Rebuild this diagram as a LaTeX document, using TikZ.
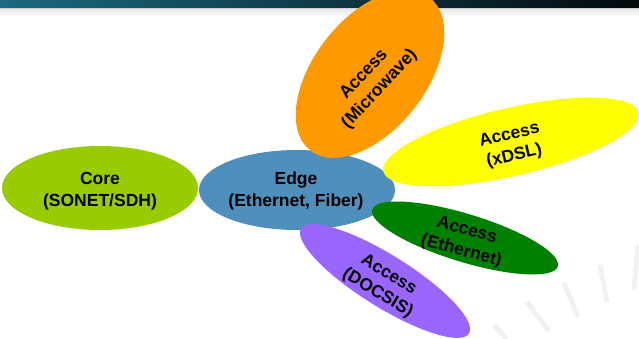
\documentclass[tikz,border=0pt]{standalone}
\usepackage{fontspec}
\setmainfont{Liberation Sans}
\usetikzlibrary{shapes.geometric}
\definecolor{corec}{HTML}{99CC00}
\definecolor{edgec}{HTML}{4F8FBB}
\definecolor{mwc}{HTML}{FF9900}
\definecolor{dslc}{HTML}{FFFF00}
\definecolor{ethc}{HTML}{008000}
\definecolor{docc}{HTML}{9966FF}
\definecolor{bandl}{HTML}{1B6A80}
\definecolor{bandr}{HTML}{03090C}
\definecolor{faint}{HTML}{F1F1F1}
\begin{document}
\begin{tikzpicture}[x=1pt,y=-1pt,
  blob/.style={ellipse, inner sep=0pt, draw=none},
  lbl/.style={font=\fontsize{17.5}{21.5}\selectfont\bfseries, align=center, inner sep=0pt, text=black},
  ray/.style={draw=faint, line width=5pt}]
\useasboundingbox (0,0) rectangle (639,339);
% top band
\shade[left color=bandl, right color=bandr] (0,0) rectangle (639,8.5);
\fill[color=black!18] (0,8.5) rectangle (639,10);
\shade[top color=black!8, bottom color=white] (0,10) rectangle (639,17);
% faint background rays
\coordinate (r1a) at (494,325); \coordinate (r1b) at (507,339);
\coordinate (r2a) at (527,302); \coordinate (r2b) at (549,331);
\coordinate (r3a) at (564,283); \coordinate (r3b) at (578,317);
\coordinate (r4a) at (600,265); \coordinate (r4b) at (607,302);
\coordinate (r5a) at (638,245); \coordinate (r5b) at (634,290);
\draw[ray] (r1a) -- (r1b);
\draw[ray] (r2a) -- (r2b);
\draw[ray] (r3a) -- (r3b);
\draw[ray] (r4a) -- (r4b);
\draw[ray] (r5a) -- (r5b);
% ellipses
\node[blob, fill=corec, minimum width=196pt, minimum height=84pt] (core) at (100,188) {};
\node[blob, fill=edgec, minimum width=196pt, minimum height=80pt] (edge) at (297,190) {};
\node[blob, fill=mwc, minimum width=194pt, minimum height=112pt, rotate=52] (mw) at (370,74) {};
\node[blob, fill=dslc, minimum width=262pt, minimum height=68pt, rotate=13] (dsl) at (511,142) {};
\node[blob, fill=ethc, minimum width=194pt, minimum height=48pt, rotate=-17] (eth) at (465,238) {};
\node[blob, fill=docc, minimum width=198pt, minimum height=52pt, rotate=-32] (doc) at (385,281) {};
% labels
\node[lbl] (tcore) at (100,191) {Core\\(SONET/SDH)};
\node[lbl] (tedge) at (296,191) {Edge\\(Ethernet, Fiber)};
\node[lbl, rotate=47] (tmw) at (372,82) {Access\\(Microwave)};
\node[lbl, rotate=13] (tdsl) at (512,146) {Access\\(xDSL)};
\node[lbl, rotate=-15] (teth) at (464,241) {Access\\(Ethernet)};
\node[lbl, rotate=-31] (tdoc) at (383,284) {Access\\(DOCSIS)};
\end{tikzpicture}
\end{document}
